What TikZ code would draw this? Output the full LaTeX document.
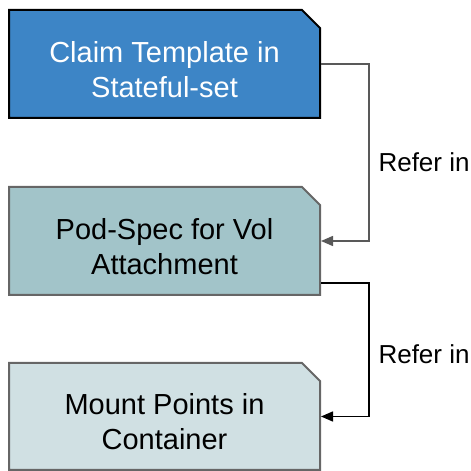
\documentclass[tikz,border=0pt]{standalone}
\usepackage{fontspec}
\setmainfont{Liberation Sans}
\usetikzlibrary{positioning}
\usetikzlibrary{shapes.misc}
\usetikzlibrary{arrows.meta}
\definecolor{claimblue}{HTML}{3D85C6}
\definecolor{podteal}{HTML}{A2C4C9}
\definecolor{mountgray}{HTML}{D0E0E3}
\definecolor{edgegray}{HTML}{666666}
\definecolor{linkgray}{HTML}{595959}
\newcommand{\boxstrut}{\rule{0pt}{32pt}}

\begin{document}
\begin{tikzpicture}[x=1pt,y=1pt,
  snipbox/.style={chamfered rectangle,chamfered rectangle corners=north east,
    chamfered rectangle xsep=9pt,chamfered rectangle ysep=9pt,
    minimum width=311pt,minimum height=108pt,inner sep=0pt,line width=2pt,
    align=center,font=\fontsize{29}{35}\selectfont},
  refer/.style={anchor=west,font=\fontsize{26}{30}\selectfont},
  link/.style={line width=1.5pt,-{Triangle[length=12pt,width=10pt]}}]
  \useasboundingbox (0,0) rectangle (471,471);

  \node[snipbox,draw=black,fill=claimblue,text=white] (claim) at (164.5,407) {\boxstrut Claim Template in\\Stateful-set};
  \node[snipbox,draw=edgegray,fill=podteal] (pod) at (164.5,230) {\boxstrut Pod-Spec for Vol\\Attachment};
  \node[snipbox,draw=edgegray,fill=mountgray,minimum height=107pt] (mount) at (164.5,54.5) {\boxstrut Mount Points in\\Container};

  \node[refer] (refer1) at (375,309) {Refer in};
  \node[refer] (refer2) at (375,117) {Refer in};

  \coordinate (podout) at ([yshift=-42pt]pod.east);
  \draw[link,draw=linkgray](claim.east)-|(369,0|-pod.east) |- (pod.east);
  \draw[link](podout)-|(369,0|-mount.east)|-(mount.east);
\end{tikzpicture}
\end{document}
